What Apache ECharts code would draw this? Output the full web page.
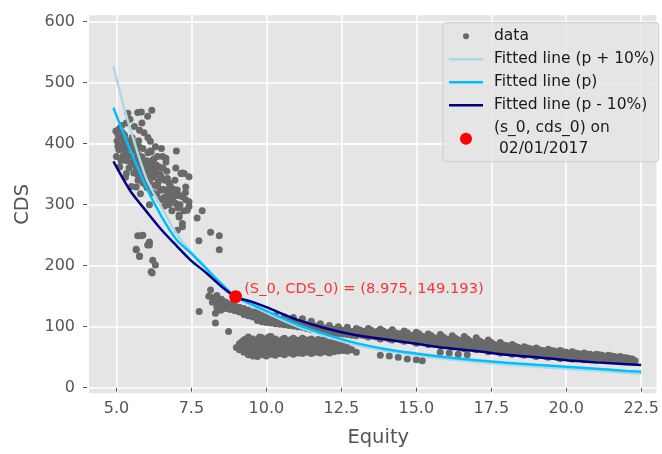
<!DOCTYPE html>
<html><head><meta charset="utf-8">
<script src="https://cdn.jsdelivr.net/npm/echarts@6/dist/echarts.min.js"></script>
<style>html,body{margin:0;padding:0;background:#fff}#chart{width:662px;height:454px}</style>
</head><body><div id="chart"></div>
<script>
// ---- tick labels ----
const xTicks = [5.0, 7.5, 10.0, 12.5, 15.0, 17.5, 20.0, 22.5];
const yTicks = [0, 100, 200, 300, 400, 500, 600];

// ---- series names ----
const seriesNames = ['data', 'Fitted line (p + 10%)', 'Fitted line (p)', 'Fitted line (p - 10%)', '(s_0, cds_0) on\n 02/01/2017'];
const annotationText = '(S_0, CDS_0) = (8.975, 149.193)';

// ---- observed data (Equity, CDS) ----
const clusterPoints = [
 [5.38,450],[5.71,451],[5.83,452],[6.18,455],[6.04,445],[5.85,434],[5.33,434],[4.98,421],[5.77,422],[5.27,414],[5.05,396],[5.50,401],[5.77,394],[6.13,404],[6.13,388],[6.37,379],[7.00,388],[6.65,376],[6.43,362],[6.04,368],[6.98,360],[7.26,351],[7.42,346],[5.00,379],[5.11,362],
 [6.16,387],[6.54,379],[6.65,370],[6.26,362],[7.20,352],[6.37,349],[6.70,343],[7.31,329],[7.03,324],[6.60,324],[6.87,313],[7.31,308],[7.42,297],[7.86,290],[7.69,278],[7.09,280],[7.20,264],[8.14,255],[8.43,249],[7.75,241],[8.43,226],[5.71,249],[5.83,249],[6.10,239],[6.10,234],[5.66,226],[5.77,216],[6.21,209],[6.30,201],[6.19,188],
 [5.33,351],[5.71,349],[6.43,349],[6.76,335],[7.15,351],[5.66,329],[6.49,324],[6.87,316],[7.20,313],[7.42,305],[6.98,302],[6.65,305],[7.36,291],[7.09,283],[7.20,269],[7.03,258],[5.88,250],[6.04,234],[5.66,227],[5.77,215],[6.16,190],
 [5.02,405],[5.08,390],[5.12,410],[5.15,372],[5.2,395],[5.22,380],[5.25,402],[5.3,388],[5.35,372],[5.38,395],[5.42,360],[5.45,380],[5.5,368],[5.55,390],[5.58,352],[5.6,375],[5.65,362],[5.68,385],[5.72,340],[5.75,370],[5.8,355],[5.85,378],[5.88,336],[5.9,360],[5.95,345],[6.0,372],[6.02,328],[6.05,352],[6.1,338],[6.15,362],[6.2,320],[6.22,345],[6.28,332],[6.3,355],[6.35,318],[6.4,338],[6.45,308],[6.5,345],[6.55,325],[6.6,298],[6.62,340],[6.7,315],[6.75,300],[6.8,330],[6.85,290],[6.9,305],[6.95,340],[7.05,295],[7.1,315],[5.1,425],[5.18,430],[5.45,440],[5.6,428],[5.92,418],[6.05,410],[6.3,395],[6.5,392],[6.25,375],[5.3,345],[5.5,330],[5.8,318],[6.1,300],
 [5.05,415],[5.14,398],[5.2,418],[5.28,385],[5.33,405],[5.4,380],[5.48,392],[5.52,410],[5.58,368],[5.63,395],[5.7,360],[5.74,405],[5.78,380],[5.82,345],[5.88,392],[5.93,370],[5.97,333],[6.05,385],[6.08,360],[6.12,345],[6.18,372],[6.24,355],[6.33,365],[6.38,330],[6.45,350],[6.55,360],[6.68,355],[6.72,325],[6.92,325],[6.78,310],[7.0,315],[7.12,300],[7.25,290],[7.3,320],[6.58,312]
];
const upperBandPoints = [
 [7.76,125],[8.08,150],[8.14,160],[8.3,122],[8.3,106],[8.47,127],[8.74,92],
 [8.2,140],[8.2,148],[8.35,132],[8.35,142],[8.35,151],[8.5,128],[8.5,136],[8.5,145],[8.65,130],[8.65,140],[8.8,128],[8.8,137],[8.95,126],[8.95,134],[9.1,124],[9.1,132],[9.25,120],[9.25,130],[9.4,118],[9.4,127],[9.55,116],[9.55,124],[9.7,110],[9.7,118],[9.7,124],[9.85,108],[9.85,116],[9.85,121],[10.0,107],[10.0,114],[10.0,120],[10.15,106],[10.15,113],[10.3,105],[10.3,112],[10.3,118],[10.45,104],[10.45,111],[10.6,103],[10.6,110],[10.6,116],[10.75,102],[10.75,109],[10.9,101],[10.9,108],[10.9,115],[11.05,100],[11.05,107],[11.2,99],[11.2,106],[11.2,113],[11.35,97],[11.35,104],[11.5,95],[11.5,102],[11.5,109],[11.65,94],[11.65,101],[11.8,93],[11.8,99],[11.8,105],[11.95,92],[11.95,98],[12.1,91],[12.1,97],[12.1,102],[12.25,90],[12.25,96],[12.4,89],[12.4,95],[12.4,100],[12.55,88],[12.55,94],[12.7,87],[12.7,93],[12.7,99],[12.85,86],[12.85,92],[13.0,85],[13.0,91],[13.0,97],
 [8.28,145],[8.42,137],[8.58,141],[8.72,134],[8.88,130],[9.02,128],[9.18,127],[9.32,124]
];
const lowerBandPoints = [
 [9.0,66],[9.1,62],[9.1,72],[9.25,58],[9.25,68],[9.25,78],[9.4,54],[9.4,63],[9.4,73],[9.4,83],[9.55,52],[9.55,61],[9.55,70],[9.55,80],[9.7,51],[9.7,60],[9.7,69],[9.7,78],[9.85,54],[9.85,63],[9.85,72],[9.85,82],[10.0,52],[10.0,61],[10.0,70],[10.0,79],[10.15,55],[10.15,64],[10.15,74],[10.15,84],[10.3,53],[10.3,62],[10.3,71],[10.3,80],[10.45,56],[10.45,65],[10.45,75],[10.6,54],[10.6,63],[10.6,72],[10.6,81],[10.75,57],[10.75,66],[10.75,76],[10.9,55],[10.9,64],[10.9,73],[10.9,81],[11.05,57],[11.05,66],[11.05,76],[11.2,56],[11.2,65],[11.2,74],[11.2,81],[11.35,58],[11.35,67],[11.35,77],[11.5,56],[11.5,65],[11.5,74],[11.5,80],[11.65,58],[11.65,67],[11.65,76],[11.8,57],[11.8,66],[11.8,75],[11.95,59],[11.95,68],[11.95,77],[12.1,57],[12.1,66],[12.1,74],[12.25,59],[12.25,68],[12.25,75],[12.4,60],[12.4,67],[12.4,73],[12.55,61],[12.55,69],[12.7,60],[12.7,66],[12.85,62],[13.0,58],
 [9.175,65],[9.175,75],[9.325,60],[9.325,70],[9.325,80],[9.475,57],[9.475,67],[9.475,77],[9.625,56],[9.625,65],[9.625,75],[9.775,55],[9.775,64],[9.775,74],[9.775,83],[9.925,57],[9.925,66],[9.925,76],[10.075,56],[10.075,65],[10.075,75],[10.075,83],[10.225,58],[10.225,68],[10.225,78],[10.375,57],[10.375,66],[10.375,76],[10.525,59],[10.525,69],[10.525,79],[10.675,58],[10.675,68],[10.675,77],[10.825,60],[10.825,70],[10.825,79],[10.975,59],[10.975,69],[10.975,78],[11.125,61],[11.125,70],[11.125,78],[11.275,60],[11.275,70],[11.275,79],[11.425,61],[11.425,70],[11.425,78],[11.575,60],[11.575,69],[11.575,77],[11.725,62],[11.725,71],[11.725,79],[11.875,61],[11.875,70],[11.875,78],[12.025,62],[12.025,70],[12.175,61],[12.175,70],[12.325,63],[12.325,71],[12.475,63],[12.475,70],[12.625,63],[12.775,63]
];
const tailBandPoints = [
 [13.2,86],[13.2,93],[13.4,83],[13.4,90],[13.4,97],[13.6,84],[13.6,91],[13.8,80],[13.8,88],[13.8,96],[14.0,82],[14.0,89],[14.2,78],[14.2,86],[14.2,95],[14.4,80],[14.4,88],[14.6,76],[14.6,84],[14.6,93],[14.8,78],[14.8,86],[15.0,73],[15.0,81],[15.0,91],[15.2,76],[15.2,84],[15.4,71],[15.4,79],[15.4,88],[15.6,73],[15.6,82],[15.8,69],[15.8,77],[15.8,87],[16.0,71],[16.0,80],[16.2,67],[16.2,75],[16.2,85],[16.4,69],[16.4,78],[16.6,64],[16.6,73],[16.6,84],[16.8,67],[16.8,76],[17.0,62],[17.0,71],[17.0,82],[17.2,65],[17.2,74],[17.4,59],[17.4,68],[17.4,78],[17.6,62],[17.6,71],[17.8,57],[17.8,65],[17.8,74],[18.0,60],[18.0,69],[18.2,55],[18.2,63],[18.2,71],[18.4,58],[18.4,66],[18.6,53],[18.6,60],[18.6,67],[18.8,56],[18.8,64],[19.0,51],[19.0,58],[19.0,65],[19.2,54],[19.2,61],[19.4,50],[19.4,57],[19.4,63],[19.6,53],[19.6,60],[19.8,48],[19.8,55],[19.8,61],[20.0,51],[20.0,58],[20.2,47],[20.2,53],[20.2,59],[20.4,50],[20.4,56],[20.6,46],[20.6,52],[20.6,57],[20.8,49],[20.8,55],[21.0,45],[21.0,51],[21.0,55],[21.2,47],[21.2,53],[21.4,44],[21.4,49],[21.4,53],[21.6,46],[21.6,51],[21.8,43],[21.8,48],[21.8,51],[22.0,45],[22.0,49],[22.2,42],[22.2,47],[22.3,44],
 [13.8,53],[14.1,52],[14.4,50],[14.7,47],[15.0,46],[15.2,44],[15.8,58],[16.1,57],[16.4,55],[16.7,54],
 [13.1,89],[13.1,95],[13.3,85],[13.3,92],[13.5,87],[13.5,94],[13.7,83],[13.7,92],[13.9,85],[13.9,93],[14.1,80],[14.1,91],[14.3,83],[14.3,90],[14.5,78],[14.5,89],[14.7,81],[14.7,90],[14.9,76],[14.9,86],[15.1,78],[15.1,88],[15.3,74],[15.3,83],[15.5,76],[15.5,85],[15.7,71],[15.7,80],[15.9,73],[15.9,83],[16.1,69],[16.1,78],[16.3,71],[16.3,81],[16.5,66],[16.5,76],[16.7,69],[16.7,80],[16.9,64],[16.9,74],[17.1,66],[17.1,77],[17.3,62],[17.3,71],[17.5,64],[17.5,74],[17.7,60],[17.7,69],[17.9,62],[17.9,70],[18.1,57],[18.1,66],[18.3,60],[18.3,68],[18.5,55],[18.5,63],[18.7,58],[18.7,65],[18.9,53],[18.9,61],[19.1,56],[19.1,62],[19.3,52],[19.3,60],[19.5,54],[19.5,61],[19.7,50],[19.7,58],[19.9,53],[19.9,59],[20.1,49],[20.1,56],[20.3,51],[20.3,57],[20.5,48],[20.5,54],[20.7,50],[20.7,55],[20.9,47],[20.9,52],[21.1,49],[21.1,54],[21.3,46],[21.3,51],[21.5,47],[21.5,52],[21.7,45],[21.7,50],[21.9,46],[21.9,49],[22.1,44],[22.1,48]
];

// ---- fitted curves ----
const curveEquity = [4.9, 5.25, 5.5, 6.0, 6.5, 7.0, 7.5, 8.0, 8.5, 8.975, 9.5, 10, 11, 12, 13, 14, 15, 16, 17, 18, 19, 20, 21, 22, 22.5];
const cdsPlus10 = [527, 460, 418, 343, 296, 253, 222, 196, 171, 149, 135, 123, 101, 84, 70, 60, 53, 47, 42, 38, 34.5, 31, 28, 24.5, 23];
const cdsP      = [459, 415, 385, 328, 281, 243, 220, 195, 170, 149, 137, 126, 104, 87, 73, 63, 56, 50, 45, 41, 37.5, 34.5, 31, 27.5, 26];
const cdsMinus10= [371, 340, 320, 289, 259, 233, 208, 188, 166, 149, 141, 132, 112, 97, 86, 79, 72, 65, 60, 54, 50, 45, 41.5, 38.5, 37];

// ---- reference point ----
const s0 = 8.975;
const cds0 = 149.193;

const zip = (xs, ys) => xs.map((x, i) => [x, ys[i]]);
const scatterData = clusterPoints.concat(upperBandPoints, lowerBandPoints, tailBandPoints);

const FONT = 'DejaVu Sans';
const LINE_ICON = 'path://M0 0L34 0L34 2.6L0 2.6Z';
const chart = echarts.init(document.getElementById('chart'), null, {renderer: 'canvas'});
chart.setOption({
  backgroundColor: '#ffffff',
  animation: false,
  grid: {left: 89, right: 0, top: 15.3, bottom: 60.7, show: true, backgroundColor: '#E5E5E5', borderWidth: 0, containLabel: false},
  xAxis: {
    type: 'value', min: 4.085, max: 23.01, offset: 2,
    axisLine: {show: false},
    axisTick: {show: true, length: 4, customValues: xTicks, lineStyle: {color: '#555555', width: 1}},
    axisLabel: {customValues: xTicks, formatter: v => v.toFixed(1), color: '#555555', fontSize: 16, fontFamily: FONT, margin: 6},
    splitLine: {show: true, lineStyle: {color: '#ffffff', width: 1.5}},
    name: 'Equity', nameLocation: 'middle', nameGap: 33,
    nameTextStyle: {color: '#555555', fontSize: 19.5, fontFamily: FONT, padding: [0, 0, 0, 11]}
  },
  yAxis: {
    type: 'value', min: -9.2, max: 610.5, offset: 2,
    axisLine: {show: false},
    axisTick: {show: true, length: 4, customValues: yTicks, lineStyle: {color: '#555555', width: 1}},
    axisLabel: {customValues: yTicks, color: '#555555', fontSize: 16, fontFamily: FONT, margin: 12},
    splitLine: {show: true, lineStyle: {color: '#ffffff', width: 1.5}},
    name: 'CDS', nameLocation: 'middle', nameRotate: 90, nameGap: 54,
    nameTextStyle: {color: '#555555', fontSize: 19.5, fontFamily: FONT}
  },
  legend: {
    orient: 'vertical', left: 443, top: 22.7, padding: [3, 4, 2, 6],
    itemWidth: 34, itemHeight: 14, itemGap: 2,
    backgroundColor: 'rgba(229,229,229,0.8)', borderColor: '#cccccc', borderWidth: 1, borderRadius: 3,
    textStyle: {fontFamily: FONT, fontSize: 15.5, color: '#1a1a1a', lineHeight: 21, padding: [0, 0, 0, 6]},
    selectedMode: false,
    data: [
      {name: seriesNames[0], icon: 'path://M0 0L0 0M34 14L34 14M20 7A3 3 0 1 1 14 7A3 3 0 1 1 20 7Z'},
      {name: seriesNames[1], icon: LINE_ICON},
      {name: seriesNames[2], icon: LINE_ICON},
      {name: seriesNames[3], icon: LINE_ICON},
      {name: seriesNames[4], icon: 'path://M0 0L0 0M34 14L34 14M23 7A6 6 0 1 1 11 7A6 6 0 1 1 23 7Z'}
    ]
  },
  series: [
    {name: seriesNames[0], type: 'scatter', data: scatterData, symbol: 'circle', symbolSize: 7,
     itemStyle: {color: '#696969', opacity: 1}, z: 2},
    {name: seriesNames[1], type: 'line', data: zip(curveEquity, cdsPlus10), symbol: 'none', smooth: 0.3,
     lineStyle: {color: '#ADD8E6', width: 2.5}, itemStyle: {color: '#ADD8E6'}, z: 3},
    {name: seriesNames[2], type: 'line', data: zip(curveEquity, cdsP), symbol: 'none', smooth: 0.3,
     lineStyle: {color: '#00BFFF', width: 2.5}, itemStyle: {color: '#00BFFF'}, z: 4},
    {name: seriesNames[3], type: 'line', data: zip(curveEquity, cdsMinus10), symbol: 'none', smooth: 0.3,
     lineStyle: {color: '#000080', width: 2.5}, itemStyle: {color: '#000080'}, z: 5},
    {name: seriesNames[4], type: 'scatter', data: [[s0, cds0]], symbol: 'circle', symbolSize: 13,
     itemStyle: {color: '#ff0000', opacity: 1}, z: 6,
     label: {show: true, formatter: annotationText, position: 'right', distance: 2, offset: [0, -8],
             color: 'rgba(255,0,0,0.78)', fontSize: 14.7, fontFamily: FONT}}
  ]
});
</script></body></html>
